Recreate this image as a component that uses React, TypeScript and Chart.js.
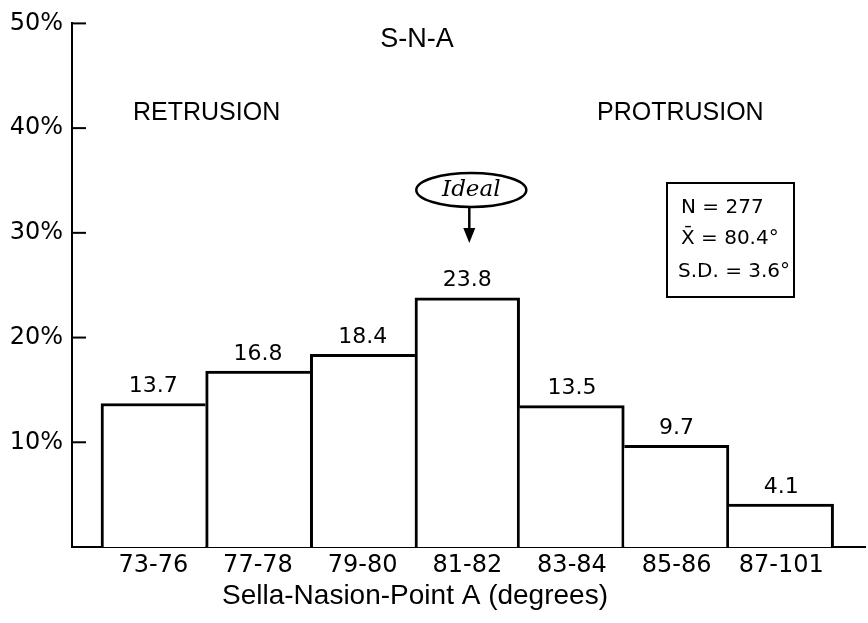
import React, { useEffect, useRef } from "react";
import { Chart, registerables } from "chart.js";

Chart.register(...registerables);

const categories = ["73-76", "77-78", "79-80", "81-82", "83-84", "85-86", "87-101"];
const percentages = [13.7, 16.8, 18.4, 23.8, 13.5, 9.7, 4.1];
const yTicks = [0, 10, 20, 30, 40, 50];
const chartTitle = "S-N-A";
const xAxisTitle = "Sella-Nasion-Point A (degrees)";
const leftNote = "RETRUSION";
const rightNote = "PROTRUSION";
const idealLabel = "Ideal";
const idealIndex = 3;
const statsLines = ["N = 277", "X\u0304 = 80.4°", "S.D. = 3.6°"];

const SANS = "'DejaVu Sans', sans-serif";
const HELV = "'Liberation Sans', Arial, sans-serif";

const annotations = {
  id: "annotations",
  afterDraw(chart: any) {
    const ctx = chart.ctx;
    const xs = chart.scales.x;
    const ys = chart.scales.y;
    const area = chart.chartArea;
    ctx.save();
    ctx.fillStyle = "#000";
    ctx.strokeStyle = "#000";

    // inner y tick marks
    ctx.lineWidth = 2;
    yTicks.forEach((v) => {
      if (v === 0) return;
      const y = ys.getPixelForValue(v);
      ctx.beginPath();
      ctx.moveTo(area.left, y);
      ctx.lineTo(area.left + 14, y);
      ctx.stroke();
    });

    // bar value labels
    const meta = chart.getDatasetMeta(0);
    ctx.font = `22px ${SANS}`;
    ctx.textAlign = "center";
    ctx.textBaseline = "bottom";
    meta.data.forEach((bar: any, i: number) => {
      ctx.fillText(String(percentages[i]), bar.x, bar.y - 6);
    });

    // title
    ctx.font = `27px ${HELV}`;
    ctx.textBaseline = "middle";
    ctx.fillText(chartTitle, 417, 40);

    ctx.font = `25px ${HELV}`;
    ctx.textAlign = "left";
    ctx.fillText(leftNote, 133, 113);
    ctx.fillText(rightNote, 597, 113);

    // x axis title
    ctx.font = `28px ${HELV}`;
    ctx.textAlign = "center";
    ctx.fillText(xAxisTitle, 415, 596);

    // Ideal ellipse + arrow
    const ix = xs.getPixelForValue(idealIndex);
    const ex = ix + 4;
    const ey = 190;
    ctx.lineWidth = 2.5;
    ctx.beginPath();
    ctx.ellipse(ex, ey, 55, 17, 0, 0, Math.PI * 2);
    ctx.stroke();
    ctx.font = `italic 23px 'DejaVu Serif', 'Liberation Serif', serif`;
    ctx.textAlign = "center";
    ctx.fillText(idealLabel, ex, ey);
    ctx.lineWidth = 2.5;
    ctx.beginPath();
    ctx.moveTo(ix + 2, ey + 17);
    ctx.lineTo(ix + 2, 232);
    ctx.stroke();
    ctx.beginPath();
    ctx.moveTo(ix - 4, 228);
    ctx.lineTo(ix + 8, 228);
    ctx.lineTo(ix + 2, 243);
    ctx.closePath();
    ctx.fill();

    // stats box
    ctx.lineWidth = 2;
    ctx.strokeRect(667, 183, 127, 114);
    ctx.font = `20px ${SANS}`;
    ctx.textAlign = "left";
    ctx.fillText(statsLines[0], 681, 208);
    ctx.fillText(statsLines[1], 681, 239);
    ctx.fillText(statsLines[2], 678, 272);

    ctx.restore();
  },
};

function borderFor(i: number) {
  const h = percentages[i];
  const w = 3;
  const left = i === 0 || h >= percentages[i - 1] ? w : 0;
  const right = i === percentages.length - 1 || h > percentages[i + 1] ? w : 0;
  return { top: w, left, right, bottom: 0 };
}

export default function App() {
  const ref = useRef<HTMLCanvasElement | null>(null);
  useEffect(() => {
    if (!ref.current) return;
    const chart = new Chart(ref.current, {
      type: "bar",
      data: {
        datasets: [
          {
            data: percentages.map((v, i) => ({ x: i, y: v })),
            backgroundColor: "#fff",
            borderColor: "#000",
            borderWidth: (c: any) => borderFor(c.dataIndex),
            borderSkipped: false,
            barPercentage: 1,
            categoryPercentage: 1,
          } as any,
        ],
      },
      options: {
        responsive: false,
        animation: false,
        layout: { padding: { top: 16, right: 3, left: 0, bottom: 0 } },
        plugins: { legend: { display: false }, tooltip: { enabled: false } },
        scales: {
          x: {
            type: "linear",
            offset: false,
            min: -0.777,
            max: 6.8,
            afterFit: (s: any) => {
              s.height = 76;
            },
            afterBuildTicks: (s: any) => {
              s.ticks = categories.map((_, i) => ({ value: i }));
            },
            grid: { display: false, drawTicks: false, tickLength: 0 },
            border: { display: true, color: "#000", width: 2 },
            ticks: {
              autoSkip: false,
              maxRotation: 0,
              padding: 4,
              color: "#000",
              font: { family: SANS, size: 24 },
              callback: (v: any) => categories[v] ?? "",
            },
          },
          y: {
            min: 0,
            max: 50,
            afterFit: (s: any) => {
              s.width = 72;
            },
            afterBuildTicks: (s: any) => {
              s.ticks = yTicks.map((v) => ({ value: v }));
            },
            grid: { display: false, drawTicks: false, tickLength: 0 },
            border: { display: true, color: "#000", width: 2 },
            ticks: {
              padding: 9,
              color: "#000",
              font: { family: SANS, size: 24 },
              callback: (v: any) => (v === 0 ? "" : `${v}%`),
            },
          },
        },
      },
      plugins: [annotations],
    });
    return () => chart.destroy();
  }, []);
  return (
    <div style={{ position: "fixed", left: 0, top: 0, width: 868, height: 623, background: "#fff" }}>
      <canvas ref={ref} width={868} height={623} />
    </div>
  );
}
